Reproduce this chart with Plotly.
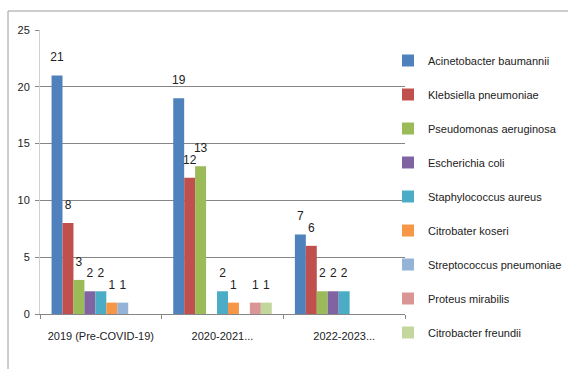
import plotly.graph_objects as go

categories = ["2019 (Pre-COVID-19)", "2020-2021...", "2022-2023..."]
series_names = [
    "Acinetobacter baumannii",
    "Klebsiella pneumoniae",
    "Pseudomonas aeruginosa",
    "Escherichia coli",
    "Staphylococcus aureus",
    "Citrobater koseri",
    "Streptococcus pneumoniae",
    "Proteus mirabilis",
    "Citrobacter freundii",
]
acinetobacter = [21, 19, 7]
klebsiella = [8, 12, 6]
pseudomonas = [3, 13, 2]
escherichia = [2, None, 2]
staphylococcus = [2, 2, 2]
citro_koseri = [1, 1, None]
streptococcus = [1, None, None]
proteus = [None, 1, None]
citro_freundii = [None, 1, None]
series_values = [acinetobacter, klebsiella, pseudomonas, escherichia, staphylococcus,
                 citro_koseri, streptococcus, proteus, citro_freundii]
colors = ["#4F81BD", "#C0504D", "#9BBB59", "#8064A2", "#4BACC6",
          "#F79646", "#95B3D7", "#D99694", "#C3D69B"]

FONT = "Liberation Sans, Arial"
L, R, T, B = 40, 163, 30, 55
PW, PH = 568 - L - R, 369 - T - B

fig = go.Figure()
for i, (name, vals, col) in enumerate(zip(series_names, series_values, colors)):
    fig.add_trace(go.Bar(
        name=name, x=categories, y=vals, marker_color=col,
        marker_line_width=0, offsetgroup=str(i),
        legendgroup=name,
    ))
for i, (name, vals) in enumerate(zip(series_names, series_values)):
    fig.add_trace(go.Scatter(
        x=categories, y=vals, mode="markers+text", offsetgroup=str(i),
        marker=dict(size=16, opacity=0), showlegend=False, legendgroup=name,
        text=[("" if v is None else str(v)) for v in vals],
        textposition="top center", cliponaxis=False, hoverinfo="skip",
        textfont=dict(family=FONT, size=12, color="#222222"),
    ))

fig.update_layout(
    width=568, height=369,
    margin=dict(l=L, r=R, t=T, b=B, autoexpand=False),
    paper_bgcolor="white", plot_bgcolor="white",
    barmode="group", bargap=0.19, bargroupgap=0,
    scattermode="group", scattergap=0.19,
    font=dict(family=FONT, size=11, color="#222222"),
    showlegend=True,
    legend=dict(x=(388 - L) / PW, y=1 - (46 - T) / PH, xanchor="left", yanchor="top",
                font=dict(family=FONT, size=11, color="#222222"),
                tracegroupgap=15, itemwidth=30, bgcolor="rgba(0,0,0,0)",
                maxheight=600),
    shapes=[dict(type="rect", xref="paper", yref="paper",
                 x0=(8 - L) / PW, x1=1.6, y0=-0.4, y1=1 + (T - 11) / PH,
                 line=dict(color="#9a9a9a", width=1), fillcolor="rgba(0,0,0,0)",
                 layer="below")],
)
fig.update_xaxes(
    showgrid=False, showline=True, linecolor="#868686", linewidth=1,
    ticks="outside", tickson="boundaries", ticklen=4, tickcolor="#868686",
    tickangle=0, automargin=False,
    tickfont=dict(family=FONT, size=11, color="#222222"),
    ticklabelstandoff=12,
)
fig.update_yaxes(
    range=[0, 25], dtick=5, showgrid=True, gridcolor="#868686", gridwidth=1,
    showline=True, linecolor="#d0d0d0", ticks="outside", ticklen=4, tickcolor="#868686",
    zeroline=False, automargin=False,
    tickfont=dict(family=FONT, size=11, color="#222222"),
    ticklabelstandoff=3,
)

fig.write_html("out.html")
